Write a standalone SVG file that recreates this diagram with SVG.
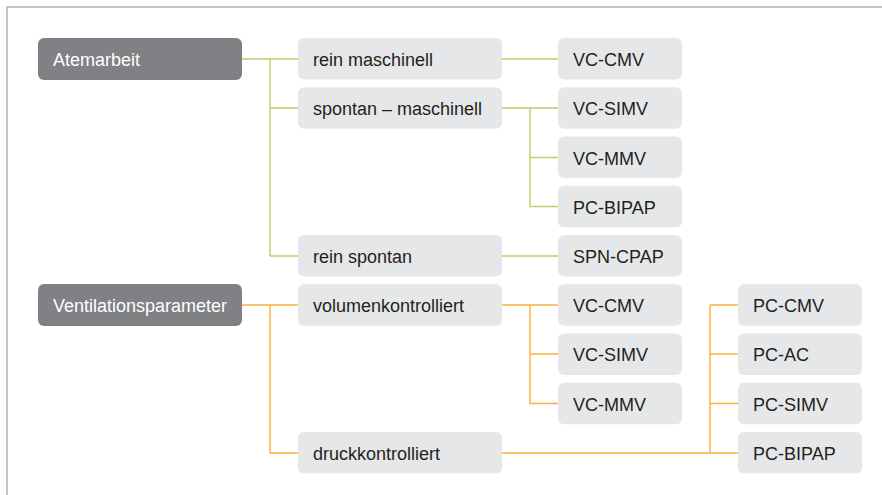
<svg xmlns="http://www.w3.org/2000/svg" width="882" height="495" viewBox="0 0 882 495">
  <style>
    .root rect { fill: #808184; }
    .root text { fill: #ffffff; }
    .leaf rect { fill: #e6e7e8; }
    .leaf text { fill: #231f20; }
    text { font-family: "Liberation Sans", Arial, sans-serif; font-size: 18px; }
    .green { stroke: #b9d26a; }
    .orange { stroke: #fbb03b; }
    #connectors path { fill: none; stroke-width: 1.4; }
    .frame { fill: none; stroke: #b3b3b3; stroke-width: 1.5; }
  </style>

  <rect x="0" y="0" width="882" height="495" fill="#ffffff"/>
  <path class="frame" d="M7,495 V7 H882"/>

  <!-- connectors -->
  <g id="connectors">
    <!-- Atemarbeit tree -->
    <path class="green" d="M242,59 H298 M270,59 V256 M270,108 H298 M270,256 H298"/>
    <path class="green" d="M502,59 H558"/>
    <path class="green" d="M502,108 H558 M530,108 V206.5 H558 M530,157.5 H558"/>
    <path class="green" d="M502,256 H558"/>
    <!-- Ventilationsparameter tree -->
    <path class="orange" d="M242,305 H298 M270,305 V453 H298"/>
    <path class="orange" d="M502,305 H558 M530,305 V403.5 H558 M530,354 H558"/>
    <path class="orange" d="M502,453 H738 M710,305 V453 M710,305 H738 M710,354 H738 M710,403.5 H738"/>
  </g>

  <!-- level 1 -->
  <g id="atemarbeit" class="root">
    <rect x="38" y="38" width="204" height="42" rx="6"/>
    <text x="53" y="66">Atemarbeit</text>
  </g>
  <g id="ventilationsparameter" class="root">
    <rect x="38" y="284" width="204" height="42" rx="6"/>
    <text x="53" y="312">Ventilationsparameter</text>
  </g>

  <!-- level 2 -->
  <g id="rein-maschinell" class="leaf">
    <rect x="298" y="38" width="204" height="41.5" rx="6"/>
    <text x="313" y="66">rein maschinell</text>
  </g>
  <g id="spontan-maschinell" class="leaf">
    <rect x="298" y="87.25" width="204" height="41.5" rx="6"/>
    <text x="313" y="115">spontan – maschinell</text>
  </g>
  <g id="rein-spontan" class="leaf">
    <rect x="298" y="235" width="204" height="41.5" rx="6"/>
    <text x="313" y="263">rein spontan</text>
  </g>
  <g id="volumenkontrolliert" class="leaf">
    <rect x="298" y="284.25" width="204" height="41.5" rx="6"/>
    <text x="313" y="312">volumenkontrolliert</text>
  </g>
  <g id="druckkontrolliert" class="leaf">
    <rect x="298" y="432" width="204" height="41.5" rx="6"/>
    <text x="313" y="460">druckkontrolliert</text>
  </g>

  <!-- level 3: Atemarbeit -->
  <g id="a-vc-cmv" class="leaf">
    <rect x="558" y="38" width="124" height="41.5" rx="6"/>
    <text x="573" y="66">VC-CMV</text>
  </g>
  <g id="a-vc-simv" class="leaf">
    <rect x="558" y="87.25" width="124" height="41.5" rx="6"/>
    <text x="573" y="115">VC-SIMV</text>
  </g>
  <g id="a-vc-mmv" class="leaf">
    <rect x="558" y="136.5" width="124" height="41.5" rx="6"/>
    <text x="573" y="164.5">VC-MMV</text>
  </g>
  <g id="a-pc-bipap" class="leaf">
    <rect x="558" y="185.75" width="124" height="41.5" rx="6"/>
    <text x="573" y="213.5">PC-BIPAP</text>
  </g>
  <g id="a-spn-cpap" class="leaf">
    <rect x="558" y="235" width="124" height="41.5" rx="6"/>
    <text x="573" y="263">SPN-CPAP</text>
  </g>

  <!-- level 3: Ventilationsparameter, volume controlled -->
  <g id="v-vc-cmv" class="leaf">
    <rect x="558" y="284.25" width="124" height="41.5" rx="6"/>
    <text x="573" y="312">VC-CMV</text>
  </g>
  <g id="v-vc-simv" class="leaf">
    <rect x="558" y="333.5" width="124" height="41.5" rx="6"/>
    <text x="573" y="361">VC-SIMV</text>
  </g>
  <g id="v-vc-mmv" class="leaf">
    <rect x="558" y="382.75" width="124" height="41.5" rx="6"/>
    <text x="573" y="410.5">VC-MMV</text>
  </g>

  <!-- level 3: Ventilationsparameter, pressure controlled -->
  <g id="v-pc-cmv" class="leaf">
    <rect x="738" y="284.25" width="124" height="41.5" rx="6"/>
    <text x="753" y="312">PC-CMV</text>
  </g>
  <g id="v-pc-ac" class="leaf">
    <rect x="738" y="333.5" width="124" height="41.5" rx="6"/>
    <text x="753" y="361">PC-AC</text>
  </g>
  <g id="v-pc-simv" class="leaf">
    <rect x="738" y="382.75" width="124" height="41.5" rx="6"/>
    <text x="753" y="410.5">PC-SIMV</text>
  </g>
  <g id="v-pc-bipap" class="leaf">
    <rect x="738" y="432" width="124" height="41.5" rx="6"/>
    <text x="753" y="460">PC-BIPAP</text>
  </g>
</svg>
